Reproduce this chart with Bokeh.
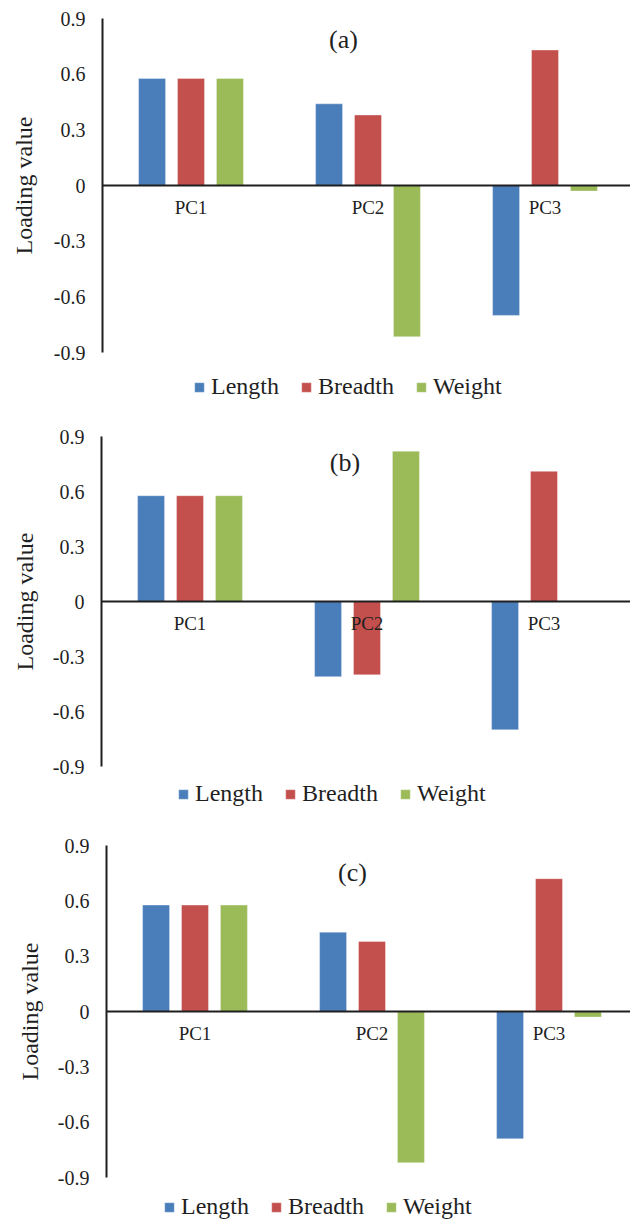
import math
from bokeh.plotting import figure
from bokeh.layouts import column
from bokeh.models import (Range1d, FixedTicker, CustomJSTickFormatter, Legend,
                          LegendItem, Label)
from bokeh.embed import file_html
from bokeh.resources import INLINE

# ---------------- data ----------------
components = ["PC1", "PC2", "PC3"]
series = ["Length", "Breadth", "Weight"]
colors = ["#4A7EBB", "#C4504E", "#9BBB59"]

a_length = [0.577, 0.44, -0.70]
a_breadth = [0.577, 0.38, 0.73]
a_weight = [0.577, -0.815, -0.03]

b_length = [0.577, -0.41, -0.70]
b_breadth = [0.577, -0.40, 0.71]
b_weight = [0.577, 0.82, 0.0]

c_length = [0.577, 0.43, -0.69]
c_breadth = [0.577, 0.38, 0.72]
c_weight = [0.577, -0.82, -0.03]

yticks = [-0.9, -0.6, -0.3, 0, 0.3, 0.6, 0.9]
ytick_labels = ["-0.9", "-0.6", "-0.3", "0", "0.3", "0.6", "0.9"]

panel_titles = ["(a)", "(b)", "(c)"]
y_title = "Loading value"

FONT = "Liberation Serif"
INK = "#1f1f1f"
CAT_PX = 177.0          # pixels per category
BAR_W = 0.1525          # bar width in category units
DODGE = [-0.22, 0.0, 0.22]
WIDTH = 630


def make_panel(vals, title, height, y_top, axis_px, x0, title_px,
               ytitle_x, legend_loc):
    ppu = axis_px / 1.8                      # pixels per loading unit
    y_end = 0.9 + y_top / ppu
    y_start = 0.9 - (height - y_top) / ppu
    p = figure(width=WIDTH, height=height, output_backend="svg",
               toolbar_location=None, tools="",
               x_range=Range1d(-x0 / CAT_PX, (WIDTH - x0) / CAT_PX),
               y_range=Range1d(y_start, y_end),
               min_border_top=0, min_border_bottom=0,
               min_border_left=0, min_border_right=0)
    p.outline_line_color = None
    p.grid.visible = False
    p.background_fill_color = "white"
    p.border_fill_color = "white"

    renderers = []
    for k, (name, col) in enumerate(zip(series, colors)):
        xs = [i + 0.5 + DODGE[k] for i in range(len(components))]
        r = p.vbar(x=xs, top=vals[k], bottom=0, width=BAR_W,
                   fill_color=col, line_color="white", line_alpha=0.35,
                   line_width=1)
        renderers.append(r)

    # x axis drawn along zero
    xa = p.xaxis[0]
    xa.fixed_location = 0
    xa.bounds = (0, (WIDTH - x0) / CAT_PX)
    xa.ticker = FixedTicker(ticks=[i + 0.5 for i in range(len(components))])
    xa.formatter = CustomJSTickFormatter(
        args=dict(labs=components),
        code="return labs[Math.round(tick - 0.5)];")
    xa.axis_line_color = INK
    xa.axis_line_width = 2
    xa.major_tick_line_color = None
    xa.minor_tick_line_color = None
    xa.major_tick_out = 0
    xa.major_tick_in = 0
    xa.major_label_standoff = 11
    xa.major_label_text_font = FONT
    xa.major_label_text_font_size = "19px"
    xa.major_label_text_color = INK

    # y axis drawn at the left edge of the category area
    ya = p.yaxis[0]
    ya.fixed_location = 0
    ya.bounds = (-0.9, 0.9)
    ya.ticker = FixedTicker(ticks=yticks)
    ya.formatter = CustomJSTickFormatter(
        args=dict(vals=yticks, labs=ytick_labels),
        code="const i = vals.findIndex(v => Math.abs(v - tick) < 1e-9); return i >= 0 ? labs[i] : '';")
    ya.axis_line_color = INK
    ya.axis_line_width = 2
    ya.major_tick_line_color = None
    ya.minor_tick_line_color = None
    ya.major_tick_out = 0
    ya.major_tick_in = 0
    ya.major_label_standoff = 17
    ya.major_label_text_font = FONT
    ya.major_label_text_font_size = "20px"
    ya.major_label_text_color = INK

    # y-axis title, centred on the axis
    p.add_layout(Label(x=(ytitle_x - x0) / CAT_PX, y=0, text=y_title,
                       angle=math.pi / 2, text_align="center",
                       text_baseline="middle", text_font=FONT,
                       text_font_size="24px", text_color=INK))

    # panel title
    p.add_layout(Label(x=(title_px[0] - x0) / CAT_PX,
                       y=0.9 - (title_px[1] - y_top) / ppu, text=title,
                       text_align="center", text_baseline="middle",
                       text_font=FONT, text_font_size="26px",
                       text_color=INK))

    legend = Legend(items=[LegendItem(label=s, renderers=[r])
                           for s, r in zip(series, renderers)],
                    orientation="horizontal", location=legend_loc,
                    glyph_width=12, glyph_height=12, label_standoff=6,
                    label_height=26, spacing=21, padding=0, margin=0,
                    border_line_color=None, background_fill_alpha=0,
                    label_text_font=FONT, label_text_font_size="24px",
                    label_text_color=INK)
    p.add_layout(legend, "center")
    return p


# panel (a): page y 0..412
pA = make_panel([a_length, a_breadth, a_weight], panel_titles[0], 412,
                18, 334, 102, (343, 39), 23, (193, 12))
# panel (b): page y 412..826
pB = make_panel([b_length, b_breadth, b_weight], panel_titles[1], 414,
                24, 330, 101, (344.5, 462 - 412), 24, (177, 19))
# panel (c): page y 826..1220
pC = make_panel([c_length, c_breadth, c_weight], panel_titles[2], 394,
                19, 332, 106, (352, 872 - 826), 29, (163, 0))

layout = column(pA, pB, pC, spacing=0)
open("out.html", "w").write(file_html(layout, INLINE))
